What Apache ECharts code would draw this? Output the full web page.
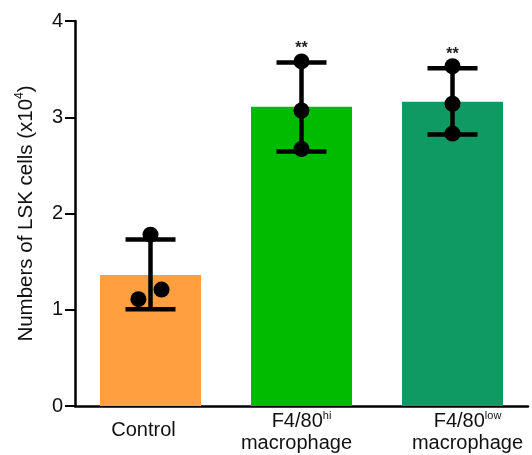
<!DOCTYPE html>
<html>
<head>
<meta charset="utf-8">
<script src="https://cdn.jsdelivr.net/npm/echarts@6/dist/echarts.min.js"></script>
<style>html,body{margin:0;padding:0;background:#fff}#c{width:532px;height:455px}</style>
</head>
<body>
<div id="c"></div>
<script>
// ---- data ----
var categories = ['Control', 'F4/80hi macrophage', 'F4/80low macrophage'];
var barValues = [1.36, 3.11, 3.16];
var errLow = [1.005, 2.645, 2.82];
var errHigh = [1.73, 3.57, 3.51];
var significance = ['', '**', '**'];
// individual points: [category index, value]
var pointCat = [0, 0, 0, 1, 1, 1, 2, 2, 2];
var pointVal = [1.78, 1.21, 1.11, 3.58, 3.07, 2.67, 3.53, 3.14, 2.83];
var pointJitter = [0, 0.073, -0.08, 0, 0, 0, 0, 0, 0]; // fraction of category width
var yTicks = [0, 1, 2, 3, 4];
var barColors = ['#FF9F40', '#00BB00', '#0E9A62'];

var chart = echarts.init(document.getElementById('c'), null, {renderer: 'canvas'});
var FONT = 'Liberation Sans, Arial, sans-serif';

var xLabelMap = {
  'Control': '{c|Control}',
  'F4/80hi macrophage': '{g|F4/80}{gs|hi}\n{g2|macrophage}',
  'F4/80low macrophage': '{t|F4/80}{ts|low}\n{t2|macrophage}'
};
var base = {fontFamily: FONT, fontSize: 20, color: '#111', lineHeight: 22};
var supS = {fontFamily: FONT, fontSize: 11, color: '#111', lineHeight: 22, verticalAlign: 'top'};
function ext(a, b) { var o = {}; for (var k in a) o[k] = a[k]; for (var k2 in b) o[k2] = b[k2]; return o; }

var option = {
  animation: false,
  grid: {left: 75, right: 4, top: 21, bottom: 49, containLabel: false, outerBoundsMode: 'none'},
  xAxis: {
    type: 'category',
    data: categories,
    axisLine: {lineStyle: {color: '#000', width: 2.5}},
    axisTick: {show: false},
    axisLabel: {
      margin: 4,
      interval: 0,
      formatter: function (v) { return xLabelMap[v]; },
      rich: {
        c: ext(base, {lineHeight: 40, padding: [0, 14, 0, 0]}),
        g: ext(base, {padding: [0, 0, 0, 0]}),
        gs: ext(supS, {padding: [0, 0, 0, 0]}),
        g2: ext(base, {padding: [0, 10, 0, 0]}),
        t: ext(base, {padding: [0, 0, 0, 30]}),
        ts: supS,
        t2: ext(base, {padding: [0, 0, 0, 30]})
      }
    }
  },
  yAxis: {
    type: 'value',
    min: yTicks[0],
    max: yTicks[yTicks.length - 1],
    interval: 1,
    name: '{a|Numbers of LSK cells (x10}{sup|4}{a|)}',
    nameLocation: 'middle',
    nameGap: 37,
    nameRotate: 90,
    nameTextStyle: {
      rich: {
        a: {fontFamily: FONT, fontSize: 20.5, color: '#111', lineHeight: 24},
        sup: {fontFamily: FONT, fontSize: 12, color: '#111', lineHeight: 24, verticalAlign: 'top'}
      }
    },
    axisLine: {show: true, lineStyle: {color: '#000', width: 2.5}},
    axisTick: {show: true, length: 10, lineStyle: {color: '#000', width: 2}},
    axisLabel: {fontFamily: FONT, fontSize: 20, color: '#111', margin: 12},
    splitLine: {show: false}
  },
  series: [
    {
      type: 'bar',
      barWidth: 101,
      data: barValues.map(function (v, i) { return {value: v, itemStyle: {color: barColors[i]}}; }),
      z: 1
    },
    {
      type: 'custom',
      z: 3,
      data: categories.map(function (c, i) { return [i, errLow[i], errHigh[i], i]; }),
      renderItem: function (params, api) {
        var lo = api.coord([api.value(0), api.value(1)]);
        var hi = api.coord([api.value(0), api.value(2)]);
        var half = 25;
        var st = {stroke: '#000', lineWidth: 4.5};
        var children = [
          {type: 'line', shape: {x1: hi[0], y1: hi[1], x2: lo[0], y2: lo[1]}, style: st},
          {type: 'line', shape: {x1: hi[0] - half, y1: hi[1], x2: hi[0] + half, y2: hi[1]}, style: st},
          {type: 'line', shape: {x1: lo[0] - half, y1: lo[1], x2: lo[0] + half, y2: lo[1]}, style: st}
        ];
        var sig = significance[api.value(3)];
        if (sig) {
          children.push({
            type: 'text',
            style: {text: sig, x: hi[0], y: hi[1] - 6, align: 'center', verticalAlign: 'bottom',
                    font: 'bold 16px ' + FONT, fill: '#222'}
          });
        }
        return {type: 'group', children: children};
      }
    },
    {
      type: 'custom',
      z: 4,
      data: pointVal.map(function (v, i) { return [pointCat[i], v, pointJitter[i]]; }),
      renderItem: function (params, api) {
        var p = api.coord([api.value(0), api.value(1)]);
        var w = api.size([1, 0])[0];
        return {type: 'circle', shape: {cx: p[0] + api.value(2) * w, cy: p[1], r: 8}, style: {fill: '#000'}};
      }
    }
  ]
};
chart.setOption(option);
</script>
</body>
</html>
